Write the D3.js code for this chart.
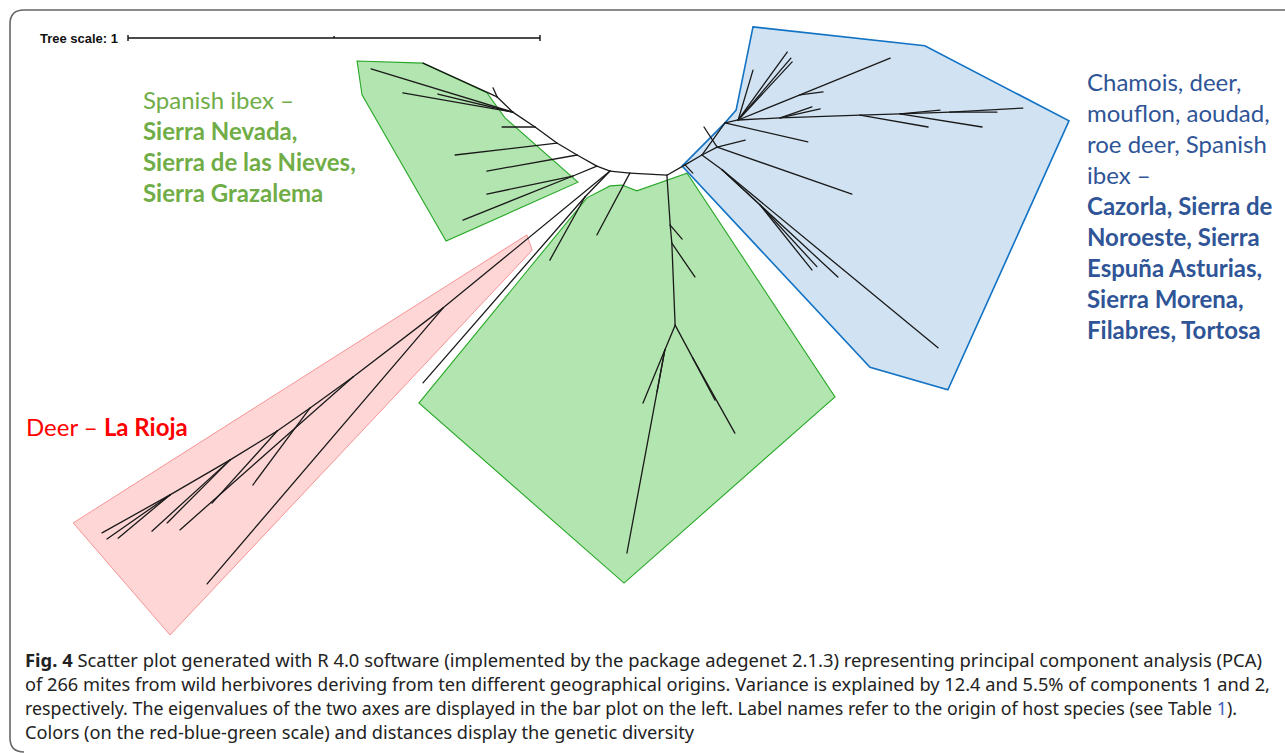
<!DOCTYPE html>
<html>
<head>
<meta charset="utf-8">
<script src="https://cdn.jsdelivr.net/npm/d3@7"></script>
<style>
  body { margin: 0; background: #fff; }
  svg { display: block; }
</style>
</head>
<body>
<div id="fig"></div>
<script>
// Tree in tree-scale units (1 = length of the scale bar)
// [id, parent, u, v]; leaves have id null
const backbone = [
  ["a8", null, 1.218, 0.328],
  ["a7", "a8", 1.170, 0.323],
  ["a6", "a7", 1.138, 0.311],
  ["a5", "a6", 1.090, 0.284],
  ["a4", "a5", 1.041, 0.255],
  ["a3", "a4", 0.988, 0.216],
  ["a2", "a3", 0.934, 0.180],
  ["a1", "a2", 0.896, 0.143],
  ["a9", "a8", 1.308, 0.333],
  ["a10", "a9", 1.352, 0.308]
];
const ibexNevadaNodes = [
  [null, "a1", 0.886, 0.121],
  [null, "a1", 0.716, 0.061],
  [null, "a2", 0.590, 0.075],
  [null, "a2", 0.667, 0.133],
  [null, "a2", 0.752, 0.136],
  [null, "a3", 0.908, 0.216],
  [null, "a4", 0.794, 0.284],
  [null, "a5", 0.871, 0.323],
  ["n6", "a6", 1.080, 0.335],
  [null, "n6", 0.871, 0.379],
  [null, "n6", 0.813, 0.442]
];
const riojaNodes = [
  ["m1", "a7", 1.109, 0.386],
  [null, "m1", 0.716, 0.837],
  [null, "m1", 1.024, 0.539],
  ["r1", "a7", 0.765, 0.655],
  [null, "r1", 0.192, 1.325],
  ["r2", "r1", 0.546, 0.823],
  [null, "r2", 0.126, 1.194],
  ["r3", "r2", 0.442, 0.898],
  [null, "r3", 0.303, 1.085],
  ["r4", "r3", 0.362, 0.954],
  [null, "r4", 0.204, 1.129],
  ["r5", "r4", 0.248, 1.024],
  [null, "r5", 0.058, 1.197],
  [null, "r5", 0.095, 1.177],
  ["r6", "r5", 0.102, 1.109],
  [null, "r6", -0.063, 1.201],
  [null, "r6", -0.051, 1.216],
  [null, "r6", -0.024, 1.214]
];
const centralNodes = [
  [null, "a8", 1.138, 0.478],
  ["t1", "a9", 1.316, 0.454],
  [null, "t1", 1.345, 0.488],
  ["t2", "t1", 1.320, 0.498],
  [null, "t2", 1.376, 0.580],
  ["t3", "t2", 1.328, 0.697],
  ["t6", "t3", 1.371, 0.777],
  [null, "t6", 1.473, 0.959],
  [null, "t6", 1.425, 0.879],
  ["t5", "t3", 1.303, 0.757],
  [null, "t5", 1.211, 1.250],
  [null, "t5", 1.250, 0.886],
  [null, "t5", 1.284, 0.859]
];
const mixedNodes = [
  [null, "a10", 1.371, 0.328],
  ["b1", "a10", 1.393, 0.284],
  ["b2", "b1", 1.442, 0.320],
  [null, "b2", 1.966, 0.752],
  [null, "b2", 1.723, 0.580],
  ["b3", "b2", 1.534, 0.405],
  [null, "b3", 1.660, 0.563],
  [null, "b3", 1.672, 0.555],
  ["b4", "b1", 1.430, 0.265],
  [null, "b4", 1.757, 0.379],
  [null, "b4", 1.498, 0.248],
  [null, "b4", 1.398, 0.216],
  ["b5", "b1", 1.449, 0.206],
  [null, "b5", 1.650, 0.252],
  ["b6", "b5", 1.481, 0.199],
  [null, "b6", 1.600, 0.034],
  [null, "b6", 1.609, 0.049],
  [null, "b6", 1.612, 0.058],
  [null, "b6", 1.517, 0.078],
  ["b8", "b6", 1.631, 0.138],
  [null, "b8", 1.850, 0.049],
  [null, "b8", 1.687, 0.131],
  ["b9", "b6", 1.583, 0.194],
  [null, "b9", 1.680, 0.172],
  [null, "b9", 1.660, 0.167],
  ["b10", "b9", 1.777, 0.187],
  [null, "b10", 1.942, 0.216],
  ["b11", "b10", 1.874, 0.184],
  [null, "b11", 2.073, 0.216],
  [null, "b11", 1.971, 0.175],
  ["b12", "b11", 1.995, 0.180],
  [null, "b12", 2.172, 0.170],
  [null, "b12", 2.109, 0.180]
];

// Clade hulls, same units
const hullNevada = [[0.556, 0.056], [0.716, 0.061], [0.871, 0.133], [0.915, 0.194], [1.092, 0.350], [0.772, 0.493], [0.568, 0.138]];
const hullRioja = [[0.968, 0.478], [0.981, 0.515], [0.102, 1.449], [-0.133, 1.177]];
const hullCentral = [[0.706, 0.886], [1.114, 0.388], [1.170, 0.359], [1.199, 0.357], [1.235, 0.371], [1.357, 0.328], [1.716, 0.871], [1.204, 1.323]];
const hullMixed = [[1.517, -0.027], [1.934, 0.019], [2.284, 0.201], [1.990, 0.854], [1.801, 0.799], [1.345, 0.311], [1.449, 0.206], [1.476, 0.175]];

const scaleTicks = [0, 0.5, 1];

const labelNevada = [["Spanish ibex –", false], ["Sierra Nevada,", true], ["Sierra de las Nieves,", true], ["Sierra Grazalema", true]];
const labelMixed = [["Chamois, deer,", false], ["mouflon, aoudad,", false], ["roe deer, Spanish", false], ["ibex –", false],
  ["Cazorla, Sierra de", true], ["Noroeste, Sierra", true], ["Espuña Asturias,", true], ["Sierra Morena,", true], ["Filabres, Tortosa", true]];

const captionLines = [
  "Scatter plot generated with R 4.0 software (implemented by the package adegenet 2.1.3) representing principal component analysis (PCA)",
  "of 266 mites from wild herbivores deriving from ten different geographical origins. Variance is explained by 12.4 and 5.5% of components 1 and 2,",
  "respectively. The eigenvalues of the two axes are displayed in the bar plot on the left. Label names refer to the origin of host species (see Table ",
  "Colors (on the red-blue-green scale) and distances display the genetic diversity"
];

const W = 1285, H = 753;
const svg = d3.select("#fig").append("svg").attr("width", W).attr("height", H);

// scales: tree units -> pixels
const xSc = d3.scaleLinear().domain([0, 1]).range([128, 540]);
const ySc = d3.scaleLinear().domain([0, 1]).range([38, 450]);

// frame
svg.append("path")
  .attr("d", "M1290,10 L24,10 Q10,10 10,24 L10,738 Q10,752 24,752")
  .attr("fill", "none").attr("stroke", "#666").attr("stroke-width", 1.6);

// tree scale
svg.append("text").attr("x", 40).attr("y", 42.5)
  .attr("font-family", "Liberation Sans, Arial").attr("font-weight", "bold")
  .attr("font-size", 12).attr("fill", "#111")
  .attr("textLength", 78).attr("lengthAdjust", "spacingAndGlyphs")
  .text("Tree scale: 1");
const sb = svg.append("g").attr("stroke", "#111").attr("stroke-width", 1.4);
sb.append("line").attr("x1", xSc(0)).attr("x2", xSc(1)).attr("y1", ySc(0)).attr("y2", ySc(0));
sb.selectAll(".tk").data(scaleTicks).join("line")
  .attr("x1", d => xSc(d)).attr("x2", d => xSc(d))
  .attr("y1", d => ySc(0) - (d === 0.5 ? 2 : 3)).attr("y2", d => ySc(0) + (d === 0.5 ? 0 : 3));

// hulls
const hull = d3.line().x(d => xSc(d[0])).y(d => ySc(d[1])).curve(d3.curveLinearClosed);
const hulls = [
  [hullRioja, "#ffd6d6", "#f58a8a", 0.9],
  [hullNevada, "#b3e5b0", "#27a827", 1.1],
  [hullCentral, "#b3e5b0", "#27a827", 1.1],
  [hullMixed, "#d1e3f3", "#1272c4", 1.6]
];
svg.selectAll(".hull").data(hulls).join("path")
  .attr("d", d => hull(d[0])).attr("fill", d => d[1])
  .attr("stroke", d => d[2]).attr("stroke-width", d => d[3]);

// branches
const allNodes = backbone.concat(ibexNevadaNodes, riojaNodes, centralNodes, mixedNodes);
const byId = new Map(allNodes.filter(n => n[0]).map(n => [n[0], n]));
const edges = allNodes.filter(n => n[1]).map(n => [byId.get(n[1]), n]);
svg.append("g").selectAll("line").data(edges).join("line")
  .attr("x1", d => xSc(d[0][2])).attr("y1", d => ySc(d[0][3]))
  .attr("x2", d => xSc(d[1][2])).attr("y2", d => ySc(d[1][3]))
  .attr("stroke", "#1a1a1a").attr("stroke-width", 1.3).attr("stroke-linecap", "round");

// clade labels
const lblFont = "Lato, 'Open Sans', sans-serif";
svg.append("g").selectAll("text").data(labelNevada).join("text")
  .attr("x", 143).attr("y", (d, i) => 109 + i * 31)
  .attr("font-family", lblFont).attr("font-size", 24)
  .attr("font-weight", d => d[1] ? "bold" : "normal")
  .attr("fill", "#70ad47").text(d => d[0]);
svg.append("g").selectAll("text").data(labelMixed).join("text")
  .attr("x", 1087).attr("y", (d, i) => 91 + i * 31)
  .attr("font-family", lblFont).attr("font-size", 24)
  .attr("font-weight", d => d[1] ? "bold" : "normal")
  .attr("fill", "#2f5597").text(d => d[0]);
const rl = svg.append("text").attr("x", 26).attr("y", 436)
  .attr("font-family", lblFont).attr("font-size", 24).attr("fill", "#ff0000");
rl.append("tspan").text("Deer – ");
rl.append("tspan").attr("font-weight", "bold").text("La Rioja");

// caption
const capFont = "'Liberation Sans Narrow', 'Noto Sans', sans-serif";
const capW = [1237, 1245, 1212, 669];
captionLines.forEach((s, i) => {
  const t = svg.append("text").attr("x", 25).attr("y", 667 + i * 24)
    .attr("font-family", capFont).attr("font-size", 17.5).attr("fill", "#222")
    .attr("textLength", capW[i]).attr("lengthAdjust", "spacingAndGlyphs");
  if (i === 0) {
    t.append("tspan").attr("font-weight", "bold").text("Fig. 4");
    t.append("tspan").text("  " + s);
  } else if (i === 2) {
    t.append("tspan").text(s);
    t.append("tspan").attr("fill", "#3b5fc0").text("1");
    t.append("tspan").text(").");
  } else {
    t.text(s);
  }
});
</script>
</body>
</html>
